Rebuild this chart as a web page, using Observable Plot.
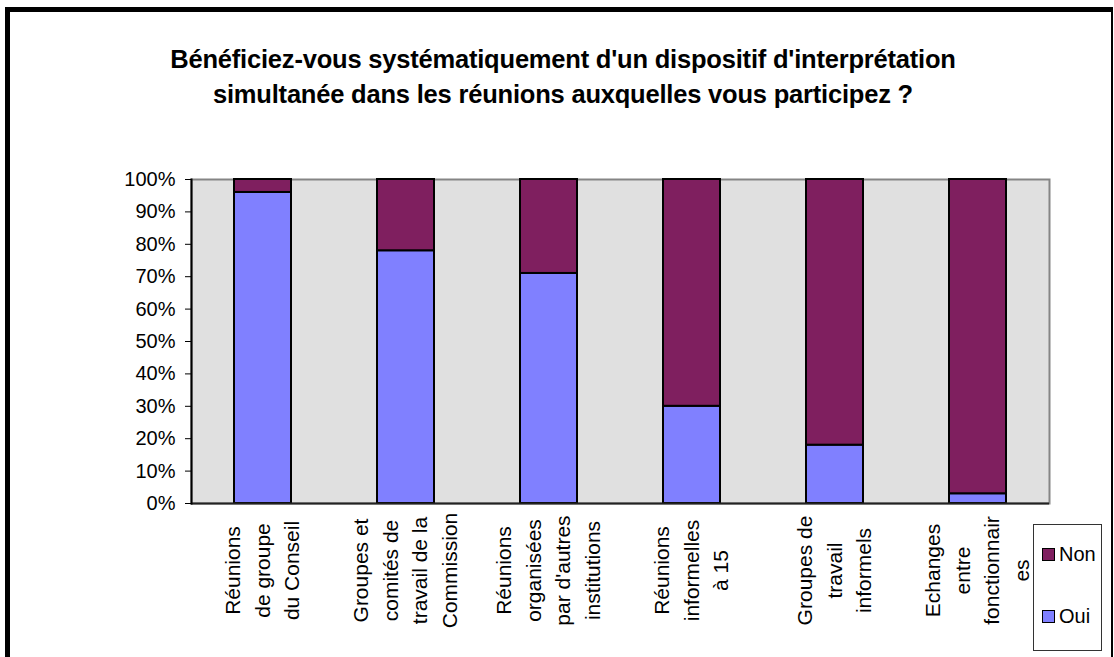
<!DOCTYPE html>
<html>
<head>
<meta charset="utf-8">
<script src="https://cdn.jsdelivr.net/npm/d3@7"></script>
<script src="https://cdn.jsdelivr.net/npm/@observablehq/plot@0.6"></script>
<style>
  html, body { margin: 0; padding: 0; background: #fff; }
  #wrap { position: relative; width: 1114px; height: 657px; overflow: hidden; background: #fff; font-family: "Liberation Sans", Arial, sans-serif; }
  #frame { position: absolute; left: 5px; top: 7px; height: 700px; border-left: 5px solid #000; border-top: 5px solid #000; border-right: 2px solid #000; box-sizing: border-box; width: 1108px; }
  #title { position: absolute; left: 0; width: 1126px; top: 42px; text-align: center; font-weight: bold; font-size: 25.5px; line-height: 35px; letter-spacing: -0.2px; color: #000; }
  #chart { position: absolute; left: 0; top: 0; }
  #legend { position: absolute; left: 1033px; top: 524px; width: 69px; height: 127px; border: 1px solid #333; box-sizing: border-box; background: #fff; font-size: 20px; }
  .item { position: absolute; left: 8px; display: flex; align-items: center; }
  .sw { width: 11px; height: 11px; border: 1.5px solid #000; margin-right: 4px; }
</style>
</head>
<body>
<div id="wrap">
  <div id="frame"></div>
  <div id="title">Bénéficiez-vous systématiquement d'un dispositif d'interprétation<br>simultanée dans les réunions auxquelles vous participez ?</div>
  <div id="chart"></div>
  <div id="legend"></div>
</div>
<script>
const categories = [
  "Réunions\nde groupe\ndu Conseil",
  "Groupes et\ncomités de\ntravail de la\nCommission",
  "Réunions\norganisées\npar d'autres\ninstitutions",
  "Réunions\ninformelles\nà 15",
  "Groupes de\ntravail\ninformels",
  "Echanges\nentre\nfonctionnair\nes"
];
const oui = [0.96, 0.78, 0.71, 0.30, 0.18, 0.03];
const non = [0.04, 0.22, 0.29, 0.70, 0.82, 0.97];
const seriesNames = ["Oui", "Non"];
const seriesColors = ["#8080ff", "#7f1f5f"];
const yTicks = [0, 0.1, 0.2, 0.3, 0.4, 0.5, 0.6, 0.7, 0.8, 0.9, 1];

const data = [];
categories.forEach((c, i) => {
  data.push({category: c, series: "Oui", value: oui[i]});
  data.push({category: c, series: "Non", value: non[i]});
});

const chart = Plot.plot({
  width: 1114,
  height: 657,
  marginLeft: 191,
  marginRight: 65,
  marginTop: 179,
  marginBottom: 154,
  style: {background: "transparent", fontFamily: "Liberation Sans, Arial, sans-serif", color: "#000"},
  x: {domain: categories, paddingInner: 0.6, paddingOuter: 0.3, axis: null},
  y: {domain: [0, 1]},
  color: {domain: seriesNames, range: seriesColors},
  marks: [
    Plot.frame({fill: "#e0e0e0", stroke: "#858585", strokeWidth: 2}),
    Plot.barY(data, {x: "category", y: "value", fill: "series", stroke: "#000", strokeWidth: 2, order: seriesNames}),
    Plot.ruleY([0], {stroke: "#222", strokeWidth: 2}),
    Plot.frame({anchor: "left", stroke: "#000", strokeWidth: 2}),
    Plot.axisY({ticks: yTicks, tickFormat: d3.format(".0%"), tickSize: 6, tickPadding: 10, fontSize: 20, label: null, stroke: "#000"}),
    Plot.text(categories, {x: d => d, text: d => d, frameAnchor: "bottom", dx: -3, dy: 67, rotate: -90, textAnchor: "middle", lineAnchor: "middle", lineHeight: 1.42, fontSize: 21, fill: "#000"})
  ]
});
chart.querySelectorAll("text").forEach(t => t.style.fill = "#000");
document.getElementById("chart").appendChild(chart);

const legend = document.getElementById("legend");
const legendItems = [["Non", seriesColors[1], 18], ["Oui", seriesColors[0], 80]];
legendItems.forEach(([name, col, top]) => {
  const d = document.createElement("div");
  d.className = "item";
  d.style.top = top + "px";
  d.innerHTML = `<span class="sw" style="background:${col}"></span><span>${name}</span>`;
  legend.appendChild(d);
});
</script>
</body>
</html>
